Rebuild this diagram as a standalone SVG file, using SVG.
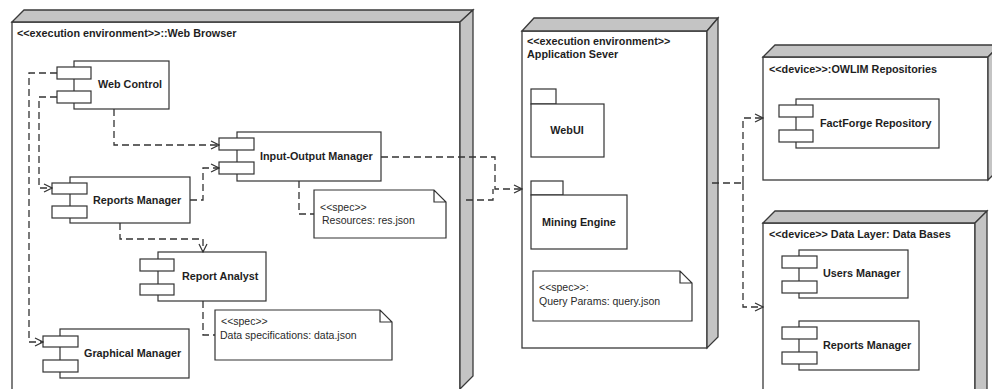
<svg xmlns="http://www.w3.org/2000/svg" width="992" height="389" viewBox="0 0 992 389">
<style>
.face{fill:#ffffff;stroke:#3a3a3a;stroke-width:1.3}
.side{fill:#c4c4c4;stroke:#3a3a3a;stroke-width:1.3}
.comp{fill:#ffffff;stroke:#333;stroke-width:1.2}
.b{font-family:"Liberation Sans",Arial,sans-serif;font-weight:bold;font-size:10.8px;fill:#1e1e1e}
.t{font-family:"Liberation Sans",Arial,sans-serif;font-size:10.5px;fill:#2a2a2a}
.mid{text-anchor:middle}
.c{fill:none;stroke:#333;stroke-width:1.3;stroke-dasharray:7,4}
</style>
<defs>
<marker id="arr" markerWidth="10" markerHeight="10" refX="9" refY="5" orient="auto" markerUnits="userSpaceOnUse">
<path d="M1,1 L9,5 L1,9" fill="none" stroke="#333" stroke-width="1.2"/>
</marker>
</defs>

<g id="web-browser">
<rect class="face" x="12" y="22" width="448" height="380"/>
<polygon class="side" points="12,22 24,10 473,10 460,22"/>
<polygon class="side" points="460,22 473,10 473,376 460,389"/>
<text class="b" x="17" y="37">&lt;&lt;execution environment&gt;&gt;::Web Browser</text>
</g>

<g id="app-server">
<rect class="face" x="522" y="31" width="185" height="317"/>
<polygon class="side" points="522,31 534,18 718,18 707,31"/>
<polygon class="side" points="707,31 718,18 718,337 707,348"/>
<text class="b" x="527" y="45">&lt;&lt;execution environment&gt;&gt;</text>
<text class="b" x="527" y="58">Application Sever</text>
</g>

<g id="owlim">
<rect class="face" x="763" y="57" width="225" height="123"/>
<polygon class="side" points="763,57 775,45 1000,45 988,57"/>
<polygon class="side" points="988,57 1000,45 1000,168 988,180"/>
<text class="b" x="769" y="73">&lt;&lt;device&gt;&gt;:OWLIM Repositories</text>
</g>

<g id="data-layer">
<rect class="face" x="763" y="223" width="212" height="180"/>
<polygon class="side" points="763,223 775,211 987,211 975,223"/>
<polygon class="side" points="975,223 987,211 987,400 975,400"/>
<text class="b" x="769" y="238">&lt;&lt;device&gt;&gt; Data Layer: Data Bases</text>
</g>

<g id="web-control">
<rect class="comp" x="74" y="61" width="95" height="48"/>
<rect class="comp" x="57" y="67" width="34" height="12"/>
<rect class="comp" x="57" y="91" width="34" height="12"/>
<text class="b" x="98" y="88">Web Control</text>
</g>

<g id="io-manager">
<rect class="comp" x="237" y="132" width="144" height="49"/>
<rect class="comp" x="219" y="138" width="35" height="12"/>
<rect class="comp" x="219" y="162" width="35" height="12"/>
<text class="b" x="260" y="160">Input-Output Manager</text>
</g>

<g id="note-resources">
<path class="comp" d="M314,190 H434 L446,202 V238 H314 Z M434,190 V202 H446"/>
<text class="t" x="320" y="211">&lt;&lt;spec&gt;&gt;</text>
<text class="t" x="322" y="224">Resources: res.json</text>
</g>

<g id="reports-manager">
<rect class="comp" x="70" y="177" width="120" height="46"/>
<rect class="comp" x="52" y="183" width="35" height="11"/>
<rect class="comp" x="52" y="206" width="35" height="12"/>
<text class="b" x="93" y="204">Reports Manager</text>
</g>

<g id="report-analyst">
<rect class="comp" x="158" y="252" width="108" height="49"/>
<rect class="comp" x="140" y="259" width="34" height="12"/>
<rect class="comp" x="140" y="284" width="34" height="11"/>
<text class="b" x="182" y="280">Report Analyst</text>
</g>

<g id="note-data">
<path class="comp" d="M215,310 H380 L392,322 V360 H215 Z M380,310 V322 H392"/>
<text class="t" x="221" y="325">&lt;&lt;spec&gt;&gt;</text>
<text class="t" x="220" y="339">Data specifications: data.json</text>
</g>

<g id="graphical-manager">
<rect class="comp" x="60" y="329" width="129" height="49"/>
<rect class="comp" x="43" y="336" width="35" height="11"/>
<rect class="comp" x="43" y="360" width="35" height="12"/>
<text class="b" x="84" y="357">Graphical Manager</text>
</g>

<g id="webui">
<rect class="comp" x="531" y="89" width="25" height="15"/>
<rect class="comp" x="531" y="104" width="73" height="53"/>
<text class="b mid" x="567" y="134">WebUI</text>
</g>

<g id="mining-engine">
<rect class="comp" x="531" y="181" width="32" height="14"/>
<rect class="comp" x="531" y="195" width="96" height="54"/>
<text class="b mid" x="579" y="226">Mining Engine</text>
</g>

<g id="note-query">
<path class="comp" d="M533,271 H680 L692,283 V321 H533 Z M680,271 V283 H692"/>
<text class="t" x="539" y="291">&lt;&lt;spec&gt;&gt;:</text>
<text class="t" x="539" y="305">Query Params: query.json</text>
</g>

<g id="factforge">
<rect class="comp" x="796" y="99" width="143" height="49"/>
<rect class="comp" x="779" y="105" width="34" height="12"/>
<rect class="comp" x="779" y="130" width="34" height="12"/>
<text class="b" x="820" y="127">FactForge Repository</text>
</g>

<g id="users-manager">
<rect class="comp" x="799" y="250" width="109" height="48"/>
<rect class="comp" x="782" y="256" width="35" height="12"/>
<rect class="comp" x="782" y="281" width="35" height="12"/>
<text class="b" x="823" y="277">Users Manager</text>
</g>

<g id="db-reports-manager">
<rect class="comp" x="799" y="321" width="120" height="49"/>
<rect class="comp" x="782" y="327" width="35" height="12"/>
<rect class="comp" x="782" y="352" width="35" height="12"/>
<text class="b" x="823" y="349">Reports Manager</text>
</g>

<g id="connectors">
<path class="c" d="M57,73 H29 V342 H43" marker-end="url(#arr)"/>
<path class="c" d="M57,97 H39 V188 H52" marker-end="url(#arr)"/>
<path class="c" d="M114,109 V145 H219" marker-end="url(#arr)"/>
<path class="c" d="M190,200 H203 V168 H219" marker-end="url(#arr)"/>
<path class="c" d="M120,223 V239 H203 V252" marker-end="url(#arr)"/>
<path class="c" d="M203,301 V335 H215"/>
<path class="c" d="M299,181 V214 H314"/>
<path class="c" d="M381,157 H495 V189 H522" marker-end="url(#arr)"/>
<path class="c" d="M466,200 H493 V189"/>
<path class="c" d="M712,183 H743"/>
<path class="c" d="M743,183 V118 H763" marker-end="url(#arr)"/>
<path class="c" d="M743,183 V307 H763" marker-end="url(#arr)"/>
</g>
</svg>
